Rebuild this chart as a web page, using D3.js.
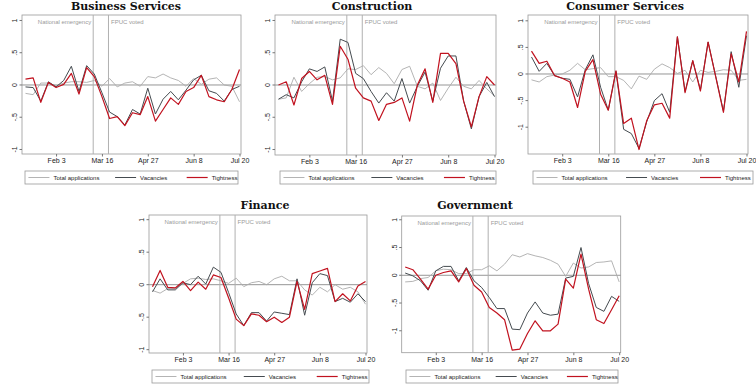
<!DOCTYPE html>
<html>
<head>
<meta charset="utf-8">
<script src="https://cdn.jsdelivr.net/npm/d3@7"></script>
<style>
  body { margin: 0; background: #fff; }
  svg { display: block; }
</style>
</head>
<body>
<svg id="chart" width="756" height="391"></svg>
<script>
// weekly observations, Jan 6 - Jul 20 2020
const WEEKS = [
  '2020-01-06', '2020-01-13', '2020-01-20', '2020-01-27', '2020-02-03', '2020-02-10', '2020-02-17', '2020-02-24',
  '2020-03-02', '2020-03-09', '2020-03-16', '2020-03-23', '2020-03-30', '2020-04-06', '2020-04-13', '2020-04-20',
  '2020-04-27', '2020-05-04', '2020-05-11', '2020-05-18', '2020-05-25', '2020-06-01', '2020-06-08', '2020-06-15',
  '2020-06-22', '2020-06-29', '2020-07-06', '2020-07-13', '2020-07-20',
];
const TICK_DATES = ['2020-02-03', '2020-03-16', '2020-04-27', '2020-06-08', '2020-07-20'];
const TICK_LABELS = ['Feb 3', 'Mar 16', 'Apr 27', 'Jun 8', 'Jul 20'];
const Y_TICKS = [1, 0.5, 0, -0.5, -1];
const Y_TICK_LABELS = ['1', '.5', '0', '-.5', '-1'];
const EVENT_DATES = ['2020-03-08', '2020-03-22'];
const EVENT_LABELS = ['National emergency', 'FPUC voted'];
const SERIES_NAMES = ['Total applications', 'Vacancies', 'Tightness'];
const SECTORS = ['Business Services', 'Construction', 'Consumer Services', 'Finance', 'Government'];

const bsTotal = [-0.13, -0.15, 0.03, 0.03, -0.01, 0.03, 0.05, 0.05, 0.04, 0.07, -0.02, 0.10, -0.03, 0.03, 0.05, -0.02, 0.13, 0.11, 0.17, 0.11, 0.07, -0.02, 0.10, 0.01, 0.09, 0.11, 0.00, -0.02, -0.26];
const bsVac = [-0.03, -0.04, -0.25, 0.05, -0.03, 0.07, 0.29, -0.10, 0.30, 0.17, -0.12, -0.42, -0.49, -0.62, -0.38, -0.45, -0.05, -0.45, -0.22, -0.10, -0.23, -0.08, 0.08, 0.15, -0.09, -0.13, -0.25, -0.07, -0.02];
const bsTight = [0.09, 0.11, -0.27, 0.04, -0.04, 0.01, 0.18, -0.14, 0.27, 0.13, -0.18, -0.52, -0.49, -0.63, -0.43, -0.46, -0.18, -0.56, -0.38, -0.20, -0.30, -0.10, -0.04, 0.15, -0.18, -0.23, -0.26, -0.07, 0.24];

const coTotal = [-0.22, -0.20, 0.12, -0.10, 0.02, 0.12, 0.13, 0.08, 0.11, 0.25, 0.24, 0.30, 0.16, 0.27, 0.18, 0.02, 0.24, 0.29, -0.02, -0.06, 0.03, -0.24, -0.05, 0.12, -0.02, -0.06, 0.07, -0.06, -0.17];
const coVac = [-0.22, -0.15, -0.20, 0.05, 0.25, 0.21, 0.28, -0.25, 0.71, 0.66, 0.18, 0.10, -0.10, -0.28, -0.12, -0.25, 0.10, -0.28, -0.02, 0.20, -0.25, 0.26, 0.45, 0.45, -0.25, -0.68, -0.18, 0.04, -0.18];
const coTight = [0.00, 0.05, -0.31, 0.10, 0.21, 0.08, 0.15, -0.30, 0.60, 0.40, -0.05, -0.20, -0.25, -0.55, -0.30, -0.27, -0.20, -0.56, 0.00, 0.25, -0.27, 0.49, 0.49, 0.33, -0.25, -0.65, -0.18, 0.13, 0.00];

const csTotal = [-0.11, -0.15, -0.05, -0.02, 0.00, 0.07, 0.20, 0.08, 0.10, 0.12, -0.05, -0.05, -0.12, -0.28, -0.04, -0.10, 0.09, 0.19, 0.12, 0.01, 0.07, -0.15, 0.07, 0.03, 0.05, 0.08, 0.07, -0.12, -0.10];
const csVac = [0.32, 0.05, 0.20, -0.03, -0.08, -0.10, -0.43, 0.08, 0.36, -0.25, -0.68, 0.05, -1.04, -1.12, -1.40, -0.90, -0.50, -0.37, -0.72, 0.70, -0.33, 0.25, -0.30, 0.60, -0.05, -0.70, 0.42, -0.25, 0.72];
const csTight = [0.43, 0.20, 0.24, -0.03, -0.08, -0.15, -0.63, 0.05, 0.27, -0.38, -0.68, 0.06, -0.93, -0.83, -1.42, -0.88, -0.58, -0.55, -0.83, 0.70, -0.35, 0.25, -0.32, 0.60, -0.06, -0.72, 0.38, -0.15, 0.80];

const fiTotal = [-0.09, -0.13, -0.06, -0.06, 0.02, 0.09, 0.10, 0.08, 0.09, 0.06, 0.02, 0.10, -0.03, 0.03, 0.05, 0.00, 0.09, 0.13, 0.06, 0.06, -0.08, -0.16, -0.04, -0.11, 0.00, -0.07, -0.04, -0.11, -0.30];
const fiVac = [-0.11, 0.09, -0.08, -0.08, 0.03, 0.00, 0.13, 0.01, 0.27, 0.19, -0.12, -0.45, -0.63, -0.43, -0.43, -0.56, -0.42, -0.44, -0.46, 0.09, -0.47, 0.03, 0.17, 0.14, -0.26, -0.21, -0.27, -0.14, -0.26];
const fiTight = [-0.03, 0.22, -0.04, -0.05, 0.05, -0.09, 0.04, -0.07, 0.15, 0.11, -0.20, -0.53, -0.63, -0.45, -0.47, -0.57, -0.50, -0.58, -0.50, 0.05, -0.38, 0.17, 0.21, 0.25, -0.26, -0.14, -0.25, -0.02, 0.05];

const goTotal = [-0.12, -0.11, -0.06, -0.04, 0.08, 0.11, 0.10, 0.03, 0.03, 0.10, 0.10, 0.17, 0.08, 0.20, 0.37, 0.33, 0.39, 0.35, 0.32, 0.27, 0.20, -0.02, 0.22, 0.13, 0.15, 0.23, 0.24, 0.26, -0.12];
const goVac = [0.04, -0.01, -0.10, -0.27, 0.08, 0.16, 0.16, -0.10, 0.14, -0.10, -0.22, -0.40, -0.60, -0.60, -0.97, -0.98, -0.68, -0.48, -0.68, -0.72, -0.70, -0.05, -0.02, 0.50, -0.15, -0.58, -0.65, -0.38, -0.47];
const goTight = [0.15, 0.10, -0.07, -0.25, 0.00, 0.05, 0.08, -0.12, 0.12, -0.18, -0.30, -0.58, -0.68, -0.80, -1.35, -1.33, -1.05, -0.82, -1.00, -1.00, -0.88, -0.07, -0.23, 0.38, -0.25, -0.80, -0.87, -0.62, -0.37];

const SECTOR_SERIES = [
  [bsTotal, bsVac, bsTight],
  [coTotal, coVac, coTight],
  [csTotal, csVac, csTight],
  [fiTotal, fiVac, fiTight],
  [goTotal, goVac, goTight],
];

// layout of each small panel (plot box, y range, title, legend box)
const LAYOUT = [
  { box: [22, 15, 241, 154], yDom: [-1.07, 1.085], title: [126, 10], legend: [25, 171, 238, 184] },
  { box: [275, 15, 496, 155], yDom: [-1.085, 1.085], title: [372, 10], legend: [280, 171, 496, 184] },
  { box: [528, 15, 748, 154], yDom: [-1.504, 1.109], title: [625, 10], legend: [533, 171, 753, 184] },
  { box: [149, 215, 367, 353], yDom: [-1.051, 1.072], title: [265, 209], legend: [152, 370, 369, 383] },
  { box: [401.7, 216, 620.7, 352.7], yDom: [-1.395, 1.068], title: [475, 209], legend: [406, 370, 618, 383] },
];

const COLORS = ['#ababab', '#454b50', '#c1121f'];
const WIDTHS = [0.9, 1, 1.2];
const FONT = 'Liberation Sans, Arial, sans-serif';

const parse = d3.utcParse('%Y-%m-%d');
const dates = WEEKS.map(parse);
const svg = d3.select('#chart');

SECTORS.forEach((name, p) => {
  const L = LAYOUT[p];
  const [bx0, by0, bx1, by1] = L.box;
  const g = svg.append('g');

  const x = d3.scaleUtc()
    .domain([dates[0], dates[dates.length - 1]])
    .range([bx0 + 3.5, bx1 - 1.5]);
  const y = d3.scaleLinear().domain(L.yDom).range([by1, by0]);

  // title
  g.append('text')
    .attr('x', L.title[0]).attr('y', L.title[1])
    .attr('text-anchor', 'middle')
    .attr('font-family', 'DejaVu Serif, serif')
    .attr('font-weight', 'bold')
    .attr('font-size', 11)
    .attr('fill', '#111')
    .text(name);

  // frame
  g.append('rect')
    .attr('x', bx0).attr('y', by0)
    .attr('width', bx1 - bx0).attr('height', by1 - by0)
    .attr('fill', 'none').attr('stroke', '#9a9a9a').attr('stroke-width', 0.8);

  // x axis
  g.append('g')
    .attr('transform', `translate(0,${by1})`)
    .call(d3.axisBottom(x)
      .tickValues(TICK_DATES.map(parse))
      .tickFormat((d, i) => TICK_LABELS[i])
      .tickSize(2.5).tickPadding(2))
    .call(a => a.select('.domain').remove())
    .call(a => a.selectAll('line').attr('stroke', '#777'))
    .call(a => a.selectAll('text').attr('font-family', FONT).attr('font-size', 7).attr('fill', '#222'));

  // y axis, rotated labels
  const ya = g.append('g').attr('transform', `translate(${bx0},0)`);
  ya.selectAll('line').data(Y_TICKS).join('line')
    .attr('x1', -2.5).attr('x2', 0)
    .attr('y1', d => y(d)).attr('y2', d => y(d))
    .attr('stroke', '#777');
  ya.selectAll('text').data(Y_TICKS).join('text')
    .attr('transform', d => `translate(-5,${y(d)}) rotate(-90)`)
    .attr('text-anchor', 'middle')
    .attr('font-family', FONT).attr('font-size', 7).attr('fill', '#222')
    .text((d, i) => Y_TICK_LABELS[i]);

  // zero line
  g.append('line')
    .attr('x1', bx0).attr('x2', bx1)
    .attr('y1', y(0)).attr('y2', y(0))
    .attr('stroke', '#8a8a8a').attr('stroke-width', 0.9);

  // event lines + labels
  EVENT_DATES.forEach((ds, i) => {
    const ex = x(parse(ds));
    g.append('line')
      .attr('x1', ex).attr('x2', ex).attr('y1', by0).attr('y2', by1)
      .attr('stroke', '#b0b0b0').attr('stroke-width', 1);
    g.append('text')
      .attr('x', i === 0 ? ex - 2 : ex + 2.5)
      .attr('y', by0 + 8.5)
      .attr('text-anchor', i === 0 ? 'end' : 'start')
      .attr('font-family', FONT).attr('font-size', 6).attr('fill', '#9a9a9a')
      .text(EVENT_LABELS[i]);
  });

  // series
  const line = d3.line()
    .x((d, i) => x(dates[i]))
    .y(d => y(d));
  SECTOR_SERIES[p].forEach((vals, s) => {
    g.append('path')
      .datum(vals)
      .attr('d', line)
      .attr('fill', 'none')
      .attr('stroke', COLORS[s])
      .attr('stroke-width', WIDTHS[s])
      .attr('stroke-linejoin', 'round');
  });

  // legend
  const [lx0, ly0, lx1, ly1] = L.legend;
  const lw = lx1 - lx0;
  const lg = g.append('g');
  lg.append('rect')
    .attr('x', lx0).attr('y', ly0).attr('width', lw).attr('height', ly1 - ly0)
    .attr('fill', '#fff').attr('stroke', '#9a9a9a').attr('stroke-width', 0.8);
  const ly = (ly0 + ly1) / 2;
  [0.016, 0.423, 0.759].forEach((f, s) => {
    const sx = lx0 + f * lw;
    lg.append('line')
      .attr('x1', sx).attr('x2', sx + 21).attr('y1', ly).attr('y2', ly)
      .attr('stroke', COLORS[s]).attr('stroke-width', WIDTHS[s]);
    lg.append('text')
      .attr('x', sx + 25).attr('y', ly)
      .attr('dominant-baseline', 'central')
      .attr('font-family', FONT).attr('font-size', 6).attr('fill', '#222')
      .text(SERIES_NAMES[s]);
  });
});
</script>
</body>
</html>
